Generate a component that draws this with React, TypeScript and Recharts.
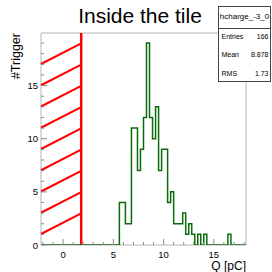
import { ComposedChart, Line, XAxis, YAxis, ReferenceArea, ReferenceLine } from "recharts"

// histogram: 68 bins of 0.3 pC starting at -2.2 pC
const lowEdge = -2.2
const binWidth = 0.3
const counts = [
  0, 0, 0, 0, 0, 0, 0, 0, 0, 0,
  0, 0, 0, 0, 0, 0, 0, 0, 0, 0,
  0, 0, 0, 0, 0, 0,
  4, 4, 2, 2, 11, 11, 7, 9, 12, 19,
  12, 10, 13, 7, 9, 9, 4, 5, 2, 2,
  2, 3, 1, 2, 1, 0, 1, 0, 1, 0,
  0, 0, 0, 0, 0, 0, 1, 0, 0, 0, 0, 0,
]
const cutQ = 1.8
const xTicks = [-2, -1, 0, 1, 2, 3, 4, 5, 6, 7, 8, 9, 10, 11, 12, 13, 14, 15, 16, 17, 18]
const yTicks = [0, 1, 2, 3, 4, 5, 6, 7, 8, 9, 10, 11, 12, 13, 14, 15, 16, 17, 18, 19]
const statLabels = ["Entries", "Mean", "RMS"]
const statValues = ["166", "8.878", "1.73"]

const xMax = lowEdge + binWidth * counts.length
const yMax = 19.95

const histData = counts.map((c, i) => ({ x: +(lowEdge + binWidth * i).toFixed(2), n: c }))
histData.push({ x: +xMax.toFixed(2), n: counts[counts.length - 1] })

const font = "'Liberation Sans', Arial, sans-serif"
const tickColor = "#8a8a8a"

const XTick = (props: any) => {
  const { x, y, payload } = props
  const v = payload.value
  const major = v % 5 === 0
  return (
    <g>
      <line x1={x} x2={x} y1={y} y2={y - (major ? 6 : 3)} stroke={tickColor} />
      {major && (
        <text x={x} y={y + 13} textAnchor="middle" fontSize={9.5} fontFamily={font} fill="#000">
          {v}
        </text>
      )}
    </g>
  )
}

const YTick = (props: any) => {
  const { x, y, payload } = props
  const v = payload.value
  const major = v % 5 === 0
  return (
    <g>
      <line x1={x} x2={x + (major ? 6 : 3)} y1={y} y2={y} stroke={tickColor} />
      {major && (
        <text x={x - 3} y={y + 3.5} textAnchor="end" fontSize={9.5} fontFamily={font} fill="#000">
          {v}
        </text>
      )}
    </g>
  )
}

// ROOT-like hatch: only whole diagonal lines inside the box
const HatchShape = (props: any) => {
  const { x, y, width, height } = props
  const slope = 0.515
  const gap = 21.25
  const lines = []
  for (let y0 = y + height - 11; y0 - width * slope >= y; y0 -= gap) {
    lines.push(
      <line key={y0} x1={x} y1={y0} x2={x + width} y2={y0 - width * slope} stroke="#ff0000" strokeWidth={2} />
    )
  }
  return <g>{lines}</g>
}

export default function App() {
  return (
    <div style={{ position: "absolute", left: 0, top: 0, width: 272, height: 272, background: "#fff" }}>
      <ComposedChart width={272} height={272} data={histData} margin={{ top: 33, right: 26, bottom: 0, left: 0 }}>
        <XAxis
          type="number"
          dataKey="x"
          domain={[lowEdge, xMax]}
          ticks={xTicks}
          interval={0}
          height={27}
          tickSize={0}
          tickMargin={0}
          axisLine={false}
          tickLine={false}
          tick={XTick}
          allowDataOverflow
        />
        <YAxis
          type="number"
          domain={[0, yMax]}
          ticks={yTicks}
          interval={0}
          width={41}
          tickSize={0}
          tickMargin={0}
          axisLine={false}
          tickLine={false}
          tick={YTick}
          allowDataOverflow
        />
        <ReferenceArea x1={lowEdge} x2={xMax} y1={0} y2={yMax} fill="none" stroke="#b4b4b4" />
        <ReferenceArea x1={lowEdge} x2={cutQ} y1={0} y2={yMax} shape={HatchShape} />
        <ReferenceLine x={cutQ} stroke="#ff0000" strokeWidth={2.5} />
        <Line
          type="stepAfter"
          dataKey="n"
          stroke="#0b6b0b"
          strokeWidth={1.5}
          dot={false}
          isAnimationActive={false}
        />
      </ComposedChart>
      <svg width={272} height={272} style={{ position: "absolute", left: 0, top: 0, pointerEvents: "none" }}>
        <text x={140} y={23} textAnchor="middle" fontSize={21} fontFamily={font} fill="#000">
          Inside the tile
        </text>
        <text
          transform="translate(20, 33) rotate(-90)"
          textAnchor="end"
          fontSize={12.5}
          fontFamily={font}
          fill="#000"
        >
          #Trigger
        </text>
        <text x={246} y={270} textAnchor="end" fontSize={12} fontFamily={font} fill="#000">
          Q [pC]
        </text>
        <rect x={218.5} y={6.5} width={52} height={75} fill="#fff" stroke="#444" />
        <line x1={218.5} x2={270.5} y1={28.5} y2={28.5} stroke="#444" />
        <text x={244.5} y={18.5} textAnchor="middle" fontSize={8} fontFamily={font} fill="#000">
          hcharge_-3_0
        </text>
        {statLabels.map((lab, i) => (
          <g key={lab}>
            <text x={221.5} y={38.5 + i * 18.5} fontSize={7} fontFamily={font} fill="#000">
              {lab}
            </text>
            <text x={268.5} y={38.5 + i * 18.5} textAnchor="end" fontSize={7} fontFamily={font} fill="#000">
              {statValues[i]}
            </text>
          </g>
        ))}
      </svg>
    </div>
  )
}
